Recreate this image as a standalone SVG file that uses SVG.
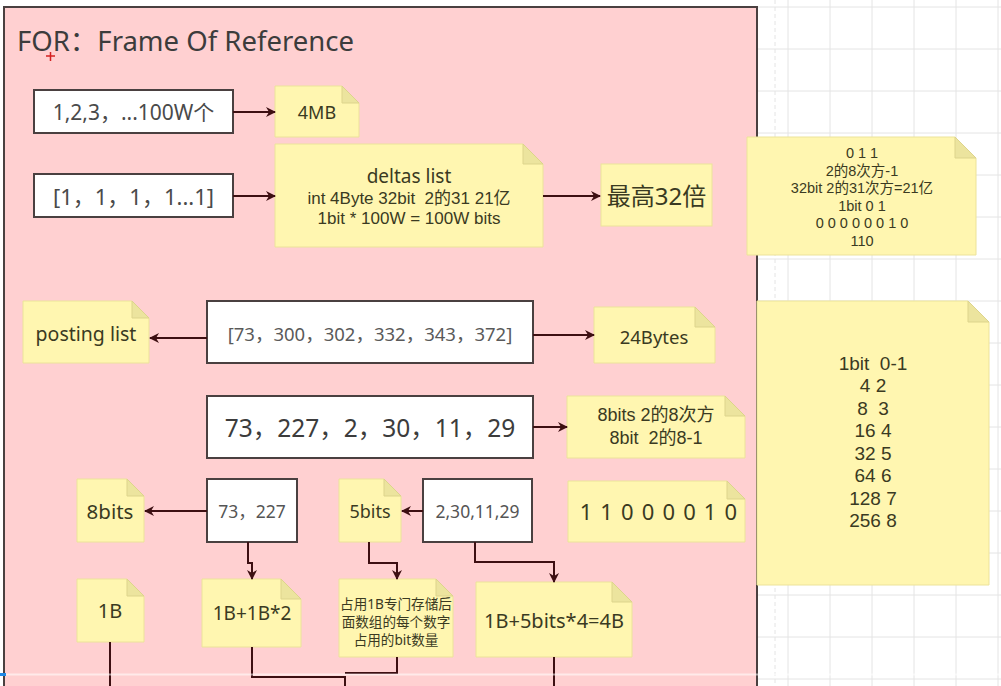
<svg xmlns="http://www.w3.org/2000/svg" width="1001" height="686" viewBox="0 0 1001 686">
<defs>
<style>
.t{font-family:"Noto Sans","Noto Sans CJK SC",sans-serif;text-anchor:middle;dominant-baseline:central}
.ls{font-family:"Liberation Sans","Noto Sans CJK SC",sans-serif}
.rt{fill:#4a4a4a}
.nt{fill:#3a3a22}
.box{fill:#fff;stroke:#4a4040;stroke-width:2}
.note{fill:#fff6b0;stroke:#ece39a;stroke-width:1}
.fold{fill:#ece49e;stroke:#ddd48c;stroke-width:1}
.c{fill:none;stroke:#3d0f12;stroke-width:2}
.g{stroke:#e4e4e4;stroke-width:1}
</style>
<marker id="ah" viewBox="0 0 10 10" refX="9" refY="5" markerWidth="10" markerHeight="10" markerUnits="userSpaceOnUse" orient="auto">
<path d="M0,0 L10,5 L0,10 L3,5 Z" fill="#3d0f12"/>
</marker>
</defs>
<rect x="0" y="0" width="1001" height="686" fill="#fff"/>
<g id="grid">
<line class="g" x1="775" y1="0" x2="775" y2="686" stroke-dasharray="4,3"/>
<line class="g" x1="788" y1="0" x2="788" y2="686"/>
<line class="g" x1="830" y1="0" x2="830" y2="686"/>
<line class="g" x1="872" y1="0" x2="872" y2="686"/>
<line class="g" x1="914" y1="0" x2="914" y2="686"/>
<line class="g" x1="956" y1="0" x2="956" y2="686"/>
<line class="g" x1="998" y1="0" x2="998" y2="686"/>
<line class="g" x1="757" y1="7" x2="1001" y2="7"/>
<line class="g" x1="757" y1="49" x2="1001" y2="49"/>
<line class="g" x1="757" y1="91" x2="1001" y2="91"/>
<line class="g" x1="757" y1="133" x2="1001" y2="133"/>
<line class="g" x1="757" y1="175" x2="1001" y2="175"/>
<line class="g" x1="757" y1="217" x2="1001" y2="217"/>
<line class="g" x1="757" y1="259" x2="1001" y2="259"/>
<line class="g" x1="757" y1="301" x2="1001" y2="301"/>
<line class="g" x1="757" y1="343" x2="1001" y2="343"/>
<line class="g" x1="757" y1="385" x2="1001" y2="385"/>
<line class="g" x1="757" y1="427" x2="1001" y2="427"/>
<line class="g" x1="757" y1="469" x2="1001" y2="469"/>
<line class="g" x1="757" y1="511" x2="1001" y2="511"/>
<line class="g" x1="757" y1="553" x2="1001" y2="553"/>
<line class="g" x1="757" y1="595" x2="1001" y2="595"/>
<line class="g" x1="757" y1="637" x2="1001" y2="637"/>
<line class="g" x1="757" y1="679" x2="1001" y2="679"/>
</g>
<g id="container">
<path d="M4,700 V7 H757 V700" fill="#ffd0d1" stroke="#4a4040" stroke-width="2"/>
<text class="t" x="17" y="40" style="text-anchor:start;font-size:27.5px;fill:#3c3c3c">FOR：Frame Of Reference</text>
<path d="M46,56 H55 M50.5,52 V61" stroke="#d42020" stroke-width="1.5"/>
</g>
<g id="n-list1">
<rect class="box" x="34" y="90" width="199" height="43"/>
<text class="t rt" x="133.5" y="111.5" style="font-size:21px">1,2,3，...100W个</text>
</g>
<g id="n-4mb">
<path class="note" d="M275,86 H342 L359,103 V137 H275 Z"/>
<path class="fold" d="M342,86 V103 H359 Z"/>
<text class="t nt" x="317" y="112" style="font-size:18px">4MB</text>
</g>
<g id="n-list2">
<rect class="box" x="34" y="174" width="199" height="43"/>
<text class="t rt" x="133.5" y="195.5" style="font-size:22px">[1，1，1，1...1]</text>
</g>
<g id="n-deltas">
<path class="note" d="M275,144 H523 L543,164 V247 H275 Z"/>
<path class="fold" d="M523,144 V164 H543 Z"/>
<text class="t nt" x="409" y="175.5" style="font-size:19px">deltas list</text>
<text class="t ls nt" x="409" y="198" style="font-size:17px" xml:space="preserve">int 4Byte 32bit  2的31 21亿</text>
<text class="t ls nt" x="409" y="218" style="font-size:17px">1bit * 100W = 100W bits</text>
</g>
<g id="n-32x">
<rect class="note" x="601" y="164" width="111" height="62"/>
<text class="t nt" x="656.5" y="195" style="font-size:24px">最高32倍</text>
</g>
<g id="n-side1">
<path class="note" d="M747,137 H955 L976,158 V255 H747 Z"/>
<path class="fold" d="M955,137 V158 H976 Z"/>
<text class="t ls nt" x="862" y="153" style="font-size:14.5px">0 1 1</text>
<text class="t ls nt" x="862" y="170.5" style="font-size:14.5px">2的8次方-1</text>
<text class="t ls nt" x="862" y="188" style="font-size:14.5px">32bit 2的31次方=21亿</text>
<text class="t ls nt" x="862" y="205.5" style="font-size:14.5px">1bit 0 1</text>
<text class="t ls nt" x="862" y="223" style="font-size:14.5px">0 0 0 0 0 0 1 0</text>
<text class="t ls nt" x="862" y="240.5" style="font-size:14.5px">110</text>
</g>
<g id="n-posting">
<path class="note" d="M23,301 H132 L149,318 V363 H23 Z"/>
<path class="fold" d="M132,301 V318 H149 Z"/>
<text class="t nt" x="86" y="333" style="font-size:19.5px">posting list</text>
</g>
<g id="n-plist">
<rect class="box" x="207" y="301" width="326" height="62"/>
<text class="t" x="370" y="333" style="font-size:18.5px;fill:#5a5a5a">[73，300，302，332，343，372]</text>
</g>
<g id="n-24b">
<path class="note" d="M594,307 H695 L715,327 V363 H594 Z"/>
<path class="fold" d="M695,307 V327 H715 Z"/>
<text class="t nt" x="654" y="336" style="font-size:18.5px">24Bytes</text>
</g>
<g id="n-dlist">
<rect class="box" x="207" y="396" width="326" height="62"/>
<text class="t" x="370" y="427" style="font-size:24.5px;fill:#3c3c3c">73，227，2，30，11，29</text>
</g>
<g id="n-8bits">
<path class="note" d="M567,396 H725 L745,416 V458 H567 Z"/>
<path class="fold" d="M725,396 V416 H745 Z"/>
<text class="t ls nt" x="656" y="414.5" style="font-size:18px">8bits 2的8次方</text>
<text class="t ls nt" x="656" y="437.5" style="font-size:18px" xml:space="preserve">8bit  2的8-1</text>
</g>
<g id="n-side2">
<path class="note" d="M757,301 H968 L989,322 V585 H757 Z"/>
<path class="fold" d="M968,301 V322 H989 Z"/>
<text class="t ls nt" x="873" y="363" style="font-size:19px" xml:space="preserve">1bit  0-1</text>
<text class="t ls nt" x="873" y="385.5" style="font-size:19px">4 2</text>
<text class="t ls nt" x="873" y="408" style="font-size:19px" xml:space="preserve">8  3</text>
<text class="t ls nt" x="873" y="430.5" style="font-size:19px">16 4</text>
<text class="t ls nt" x="873" y="453" style="font-size:19px">32 5</text>
<text class="t ls nt" x="873" y="475.5" style="font-size:19px">64 6</text>
<text class="t ls nt" x="873" y="498" style="font-size:19px">128 7</text>
<text class="t ls nt" x="873" y="520.5" style="font-size:19px">256 8</text>
</g>
<g id="n-8bits-s">
<path class="note" d="M77,479 H127 L144,496 V542 H77 Z"/>
<path class="fold" d="M127,479 V496 H144 Z"/>
<text class="t nt" x="110" y="511" style="font-size:20.5px">8bits</text>
</g>
<g id="n-73-227">
<rect class="box" x="207" y="479" width="90" height="63"/>
<text class="t" x="252" y="511" style="font-size:17.5px;fill:#555">73，227</text>
</g>
<g id="n-5bits">
<path class="note" d="M339,479 H384 L401,496 V542 H339 Z"/>
<path class="fold" d="M384,479 V496 H401 Z"/>
<text class="t nt" x="370" y="511" style="font-size:18px">5bits</text>
</g>
<g id="n-rest">
<rect class="box" x="423" y="479" width="109" height="63"/>
<text class="t" x="477.5" y="511" style="font-size:17.5px;fill:#555">2,30,11,29</text>
</g>
<g id="n-bits">
<path class="note" d="M568,481 H727 L745,499 V542 H568 Z"/>
<path class="fold" d="M727,481 V499 H745 Z"/>
<text class="t nt" x="659" y="511" style="font-size:22px;letter-spacing:1.2px">1 1 0 0 0 0 1 0</text>
</g>
<g id="n-1b">
<path class="note" d="M77,579 H127 L144,596 V642 H77 Z"/>
<path class="fold" d="M127,579 V596 H144 Z"/>
<text class="t nt" x="110" y="610" style="font-size:20px">1B</text>
</g>
<g id="n-1b2">
<path class="note" d="M202,579 H281 L301,599 V647 H202 Z"/>
<path class="fold" d="M281,579 V599 H301 Z"/>
<text class="t nt" x="252" y="613" style="font-size:19px">1B+1B*2</text>
</g>
<g id="n-desc">
<path class="note" d="M339,579 H436 L453,596 V657 H339 Z"/>
<path class="fold" d="M436,579 V596 H453 Z"/>
<text class="t nt" x="396" y="603" style="font-size:13.6px">占用1B专门存储后</text>
<text class="t nt" x="396" y="621" style="font-size:13.6px">面数组的每个数字</text>
<text class="t nt" x="396" y="639" style="font-size:13.6px">占用的bit数量</text>
</g>
<g id="n-4b">
<path class="note" d="M476,582 H612 L632,602 V657 H476 Z"/>
<path class="fold" d="M612,582 V602 H632 Z"/>
<text class="t nt" x="554" y="620" style="font-size:20px">1B+5bits*4=4B</text>
</g>
<g id="connectors">
<path class="c" d="M233,112 H275" marker-end="url(#ah)"/>
<path class="c" d="M233,196 H275" marker-end="url(#ah)"/>
<path class="c" d="M543,196 H600" marker-end="url(#ah)"/>
<path class="c" d="M207,338 H150" marker-end="url(#ah)"/>
<path class="c" d="M533,335 H594" marker-end="url(#ah)"/>
<path class="c" d="M533,427 H567" marker-end="url(#ah)"/>
<path class="c" d="M207,511 H145" marker-end="url(#ah)"/>
<path class="c" d="M423,511 H402" marker-end="url(#ah)"/>
<path class="c" d="M248,542 V563 H252 V579" marker-end="url(#ah)"/>
<path class="c" d="M369,542 V563 H397 V579" marker-end="url(#ah)"/>
<path class="c" d="M475,542 V562 H554 V582" marker-end="url(#ah)"/>
<path class="c" d="M110,642 V690"/>
<path class="c" d="M252,647 V677 H345 V690"/>
<path class="c" d="M397,657 V673 H345"/>
<path class="c" d="M554,657 V690"/>
</g>
<g id="overlay">
<line x1="0" y1="674.5" x2="1001" y2="674.5" stroke="#ffffff" stroke-opacity="0.55" stroke-width="2"/>
<rect x="0" y="673" width="6" height="3" fill="#1e88e5"/>
</g>
</svg>
